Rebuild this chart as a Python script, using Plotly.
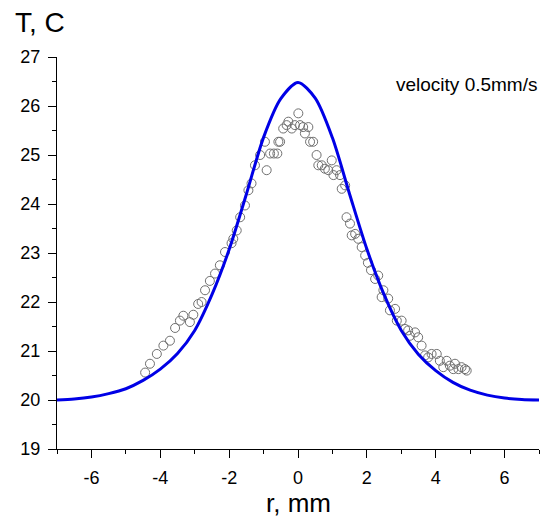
import plotly.graph_objects as go

# Model curve (blue line)
curve_r = [-7, -6.5, -6, -5.5, -5, -4.5, -4, -3.5, -3, -2.5, -2, -1.5, -1, -0.5, 0,
           0.5, 1, 1.5, 2, 2.5, 3, 3.5, 4, 4.5, 5, 5.5, 6, 6.5, 7]
curve_T = [20.0, 20.02, 20.06, 20.13, 20.23, 20.40, 20.63, 20.95, 21.42, 22.15, 23.07, 24.2, 25.36, 26.15, 26.48,
           26.16, 25.35, 24.2, 23.08, 22.15, 21.42, 20.93, 20.6, 20.36, 20.2, 20.1, 20.04, 20.01, 20.0]

# Measured data (open circles)
data_r = [-4.44, -4.30, -4.10, -3.91, -3.72, -3.57, -3.43, -3.33, -3.14, -3.04, -2.90, -2.80, -2.70,
          -2.56, -2.41, -2.27, -2.12, -1.93, -1.88, -1.78, -1.68, -1.54, -1.44, -1.35, -1.25, -1.10,
          -0.96, -0.91, -0.81, -0.70, -0.60, -0.57, -0.52, -0.43, -0.33, -0.28, -0.18, -0.09, 0.01,
          0.06, 0.15, 0.20, 0.30, 0.35, 0.44, 0.54, 0.59, 0.69, 0.78, 0.88, 0.98, 1.03, 1.12, 1.22,
          1.27, 1.37, 1.41, 1.51, 1.56, 1.66, 1.75, 1.85, 1.95, 2.03, 2.12, 2.24, 2.33, 2.43, 2.48,
          2.62, 2.67, 2.82, 2.87, 3.01, 3.11, 3.20, 3.25, 3.40, 3.49, 3.59, 3.69, 3.78, 3.88, 4.03,
          4.12, 4.22, 4.32, 4.41, 4.51, 4.56, 4.66, 4.75, 4.85, 4.90]
data_T = [20.56, 20.74, 20.94, 21.11, 21.21, 21.47, 21.62, 21.72, 21.59, 21.74, 21.96, 22.00, 22.24,
          22.43, 22.58, 22.75, 23.02, 23.20, 23.29, 23.46, 23.73, 23.97, 24.28, 24.42, 24.79, 25.00,
          25.27, 24.69, 25.03, 25.03, 25.03, 25.27, 25.27, 25.54, 25.61, 25.68, 25.54, 25.61, 25.85,
          25.61, 25.57, 25.44, 25.57, 25.27, 25.27, 25.00, 24.79, 24.79, 24.72, 24.69, 24.89, 24.59,
          24.69, 24.59, 24.31, 24.38, 23.73, 23.60, 23.36, 23.39, 23.29, 23.12, 22.95, 22.80, 22.65,
          22.47, 22.54, 22.10, 22.24, 22.07, 21.83, 21.86, 21.62, 21.62, 21.45, 21.42, 21.31, 21.38,
          21.28, 21.11, 20.91, 20.87, 20.94, 20.94, 20.80, 20.67, 20.80, 20.70, 20.63, 20.74, 20.63,
          20.67, 20.63, 20.60]

x_ticks = [-6, -4, -2, 0, 2, 4, 6]
y_ticks = [19, 20, 21, 22, 23, 24, 25, 26, 27]

FONT = "Liberation Sans, Arial, sans-serif"

# page has an 8px body margin; figure is placed at (8, 8) in the 553x521 window
W, H = 537, 513
ML, MR, MT, MB = 49, 6, 49, 72
PW, PH = W - ML - MR, H - MT - MB  # 482 x 392

fig = go.Figure()
fig.add_trace(go.Scatter(x=data_r, y=data_T, mode="markers",
                         marker=dict(symbol="circle-open", size=9, color="#707070",
                                     line=dict(width=1, color="#707070")),
                         showlegend=False))
fig.add_trace(go.Scatter(x=curve_r, y=curve_T, mode="lines",
                         line=dict(color="#0000e6", width=3, shape="spline", smoothing=0.8),
                         showlegend=False))

fig.update_layout(
    width=W, height=H,
    margin=dict(l=ML, r=MR, t=MT, b=MB, autoexpand=False),
    paper_bgcolor="white", plot_bgcolor="white",
    font=dict(family=FONT, color="black"),
    xaxis=dict(range=[-7, 7], tickvals=x_ticks, ticktext=[str(v) for v in x_ticks],
               showgrid=False, zeroline=False, showline=True, linecolor="black", linewidth=1,
               ticks="outside", ticklen=8, tickwidth=1, tickcolor="black", ticklabelstandoff=4,
               tickfont=dict(size=18, family=FONT),
               minor=dict(ticks="outside", ticklen=4, tickwidth=1, tickcolor="black", dtick=1, tick0=0)),
    yaxis=dict(range=[19, 27], tickvals=y_ticks, ticktext=[str(v) for v in y_ticks],
               showgrid=False, zeroline=False, showline=True, linecolor="black", linewidth=1,
               ticks="outside", ticklen=8, tickwidth=1, tickcolor="black", ticklabelstandoff=4,
               tickfont=dict(size=18, family=FONT),
               minor=dict(ticks="outside", ticklen=4, tickwidth=1, tickcolor="black", dtick=0.5, tick0=0)),
    annotations=[
        dict(text="T, C", xref="paper", yref="paper", x=-44 / PW, y=1 + 35 / PH,
             xanchor="left", yanchor="middle", showarrow=False, font=dict(size=28, family=FONT)),
        dict(text="r, mm", xref="paper", yref="paper", x=0.5, y=-54 / PH,
             xanchor="center", yanchor="middle", showarrow=False, font=dict(size=26, family=FONT)),
        dict(text="velocity 0.5mm/s", xref="paper", yref="paper", x=1.0, y=1 - 27 / PH,
             xanchor="right", yanchor="middle", showarrow=False, font=dict(size=19, family=FONT)),
    ],
)

fig.write_html("out.html")
